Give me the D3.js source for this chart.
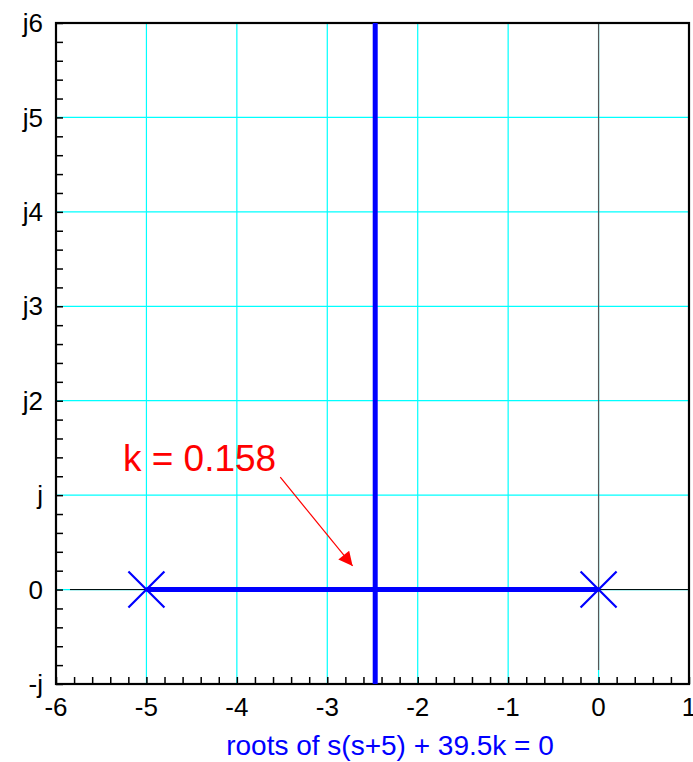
<!DOCTYPE html>
<html>
<head>
<meta charset="utf-8">
<script src="https://cdn.jsdelivr.net/npm/d3@7"></script>
<style>
  body { margin: 0; background: #fff; }
  text { font-family: "Liberation Sans", Arial, Helvetica, sans-serif; }
</style>
</head>
<body>
<script>
// chart values
const xTicks = [-6, -5, -4, -3, -2, -1, 0, 1];
const yTicks = [-1, 0, 1, 2, 3, 4, 5, 6];
const yTickLabels = ["-j", "0", "j", "j2", "j3", "j4", "j5", "j6"];
const poles = [[-5, 0], [0, 0]];
const realLocus = [[-5, 0], [0, 0]];
const branchLocus = [[-2.47, -1], [-2.47, 6]];
const kText = "k = 0.158";
const kTextAt = [-5.26, 1.26];
const arrowFrom = [-3.52, 1.19];
const arrowTo = [-2.72, 0.25];
const xTitle = "roots of s(s+5) + 39.5k = 0";

const W = 693, H = 762;
const margin = { top: 23, right: 4, bottom: 78, left: 56 };
const width = W - margin.left - margin.right;
const height = H - margin.top - margin.bottom;

const svg = d3.select("body").append("svg")
    .attr("width", W).attr("height", H);

svg.append("defs").append("marker")
    .attr("id", "head")
    .attr("viewBox", "0 0 10 10")
    .attr("refX", 10).attr("refY", 5)
    .attr("markerWidth", 25).attr("markerHeight", 14)
    .attr("markerUnits", "userSpaceOnUse")
    .attr("orient", "auto")
    .append("path")
    .attr("d", "M0,0 L10,5 L0,10 Z")
    .attr("fill", "red");

const g = svg.append("g")
    .attr("transform", `translate(${margin.left},${margin.top})`);

const x = d3.scaleLinear().domain([-6, 1]).range([0, width]);
const y = d3.scaleLinear().domain([-1, 6]).range([height, 0]);

// grid
g.append("g").selectAll("line")
    .data(xTicks.slice(1, -1))
    .enter().append("line")
    .attr("x1", d => x(d)).attr("x2", d => x(d))
    .attr("y1", 0).attr("y2", height)
    .attr("stroke", "#00ffff").attr("stroke-width", 1.2);

g.append("g").selectAll("line")
    .data(yTicks.slice(1, -1))
    .enter().append("line")
    .attr("x1", 0).attr("x2", width)
    .attr("y1", d => y(d)).attr("y2", d => y(d))
    .attr("stroke", "#00ffff").attr("stroke-width", 1.2);

// zero lines
g.append("line")
    .attr("x1", x(0)).attr("x2", x(0))
    .attr("y1", 0).attr("y2", height - 14)
    .attr("stroke", "#555").attr("stroke-width", 1.2);
g.append("line")
    .attr("x1", 14).attr("x2", width)
    .attr("y1", y(0)).attr("y2", y(0))
    .attr("stroke", "#000").attr("stroke-width", 1);

// axes with minor ticks pointing inward
const xMinor = d3.range(-6, 1.001, 0.2);
const yMinor = d3.range(-1, 6.001, 0.2);

const xAxis = g.append("g")
    .attr("transform", `translate(0,${height})`)
    .call(d3.axisBottom(x).tickValues(xMinor).tickSize(-7).tickFormat(""));
xAxis.select(".domain").remove();
xAxis.selectAll(".tick line").attr("stroke", "#000").attr("stroke-width", 1.5);

const yAxis = g.append("g")
    .call(d3.axisLeft(y).tickValues(yMinor).tickSize(-7).tickFormat(""));
yAxis.select(".domain").remove();
yAxis.selectAll(".tick line").attr("stroke", "#000").attr("stroke-width", 1.5);

// tick labels
g.append("g").selectAll("text")
    .data(xTicks)
    .enter().append("text")
    .attr("x", d => x(d)).attr("y", height + 32)
    .attr("text-anchor", "middle")
    .attr("font-size", 26)
    .text(d => d);

g.append("g").selectAll("text")
    .data(yTicks)
    .enter().append("text")
    .attr("x", -13).attr("y", d => y(d))
    .attr("dy", "0.35em")
    .attr("text-anchor", "end")
    .attr("font-size", 26)
    .text((d, i) => yTickLabels[i]);

// frame
g.append("rect")
    .attr("width", width).attr("height", height)
    .attr("fill", "none").attr("stroke", "#000").attr("stroke-width", 2.2);

// locus
const line = d3.line().x(d => x(d[0])).y(d => y(d[1]));
g.append("path").datum(realLocus)
    .attr("d", line).attr("fill", "none")
    .attr("stroke", "#0000ff").attr("stroke-width", 5);
g.append("path").datum(branchLocus)
    .attr("d", line).attr("fill", "none")
    .attr("stroke", "#0000ff").attr("stroke-width", 5);

// poles
const s = 18;
g.append("g").selectAll("path")
    .data(poles)
    .enter().append("path")
    .attr("d", d => {
        const px = x(d[0]), py = y(d[1]);
        return `M${px - s},${py - s}L${px + s},${py + s}M${px - s},${py + s}L${px + s},${py - s}`;
    })
    .attr("stroke", "#0000ff").attr("stroke-width", 2.2).attr("fill", "none");

// annotation
g.append("text")
    .attr("x", x(kTextAt[0])).attr("y", y(kTextAt[1]))
    .attr("font-size", 37).attr("fill", "red")
    .text(kText);
g.append("line")
    .attr("x1", x(arrowFrom[0])).attr("y1", y(arrowFrom[1]))
    .attr("x2", x(arrowTo[0])).attr("y2", y(arrowTo[1]))
    .attr("stroke", "red").attr("stroke-width", 1.2)
    .attr("marker-end", "url(#head)");

// axis title
svg.append("text")
    .attr("x", 390).attr("y", 755)
    .attr("text-anchor", "middle")
    .attr("font-size", 28).attr("fill", "#0000ff")
    .text(xTitle);
</script>
</body>
</html>
